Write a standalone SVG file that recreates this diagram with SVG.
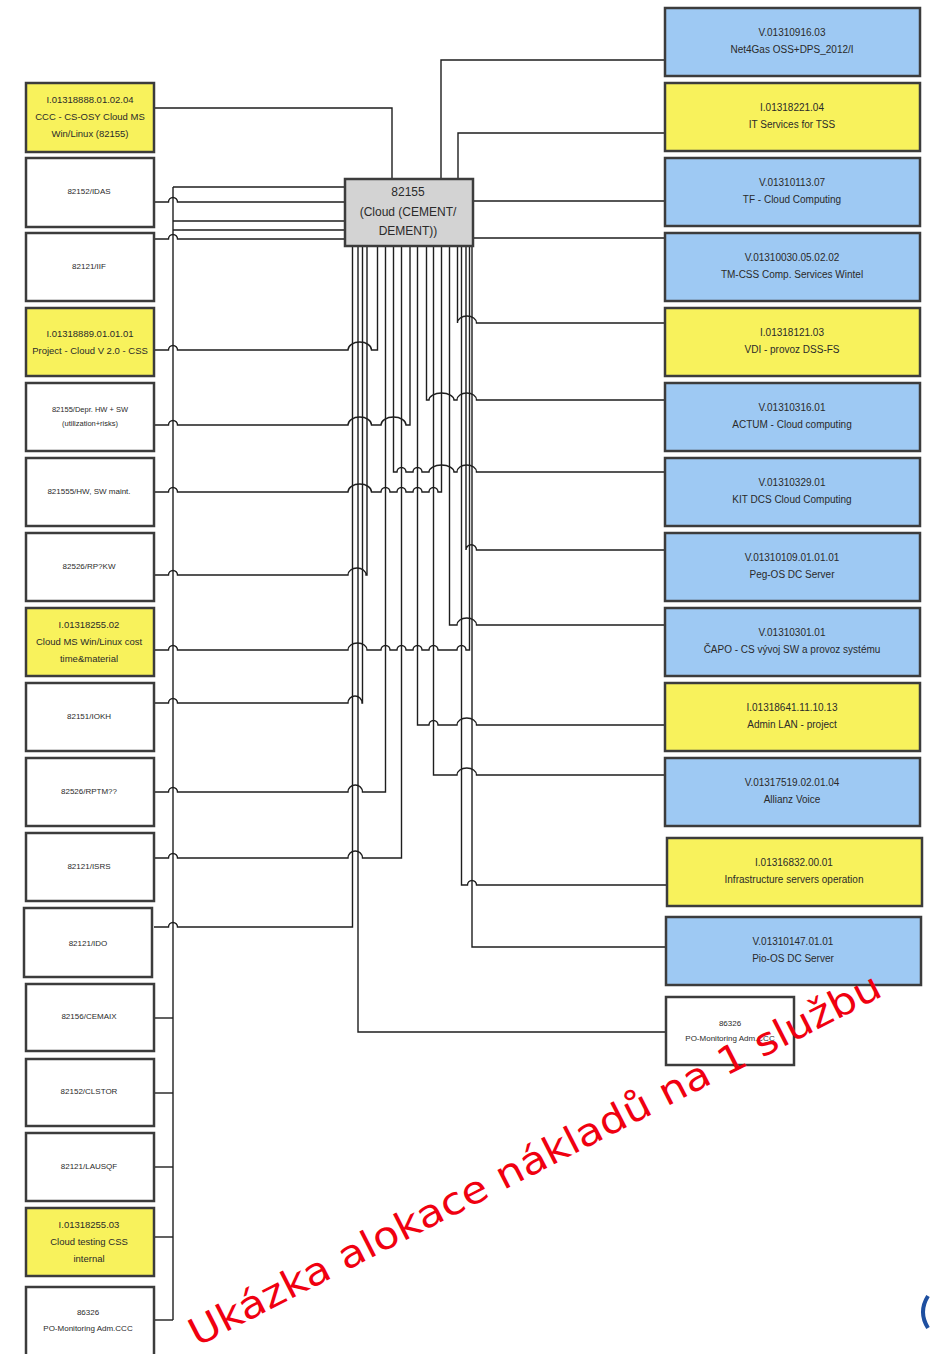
<svg xmlns="http://www.w3.org/2000/svg" width="930" height="1354" viewBox="0 0 930 1354">
<style>
.box{stroke:#3c3c3c;stroke-width:2.5}
.w{fill:#ffffff}
.y{fill:#f8f25c}
.b{fill:#9ec9f3}
.g{fill:#d3d3d3}
text{font-family:"Liberation Sans",Arial,sans-serif;fill:#2a2a2a;text-anchor:middle}
.t10{font-size:10px}
.t9{font-size:9.5px}
.t8{font-size:8px}
.t7{font-size:7.5px}
.t12{font-size:12px}
.c path{fill:none;stroke:#1e1e1e;stroke-width:1.4}
.red{font-family:"DejaVu Sans",Verdana,sans-serif;font-size:38px;fill:#f00010;text-anchor:start}
</style>
<rect width="930" height="1354" fill="#ffffff"/>

<g id="connectors" class="c">
<!-- top -->
<path d="M154,108 H392 V179"/>
<path d="M665,60 H441 V179"/>
<path d="M665,133 H458 V179"/>
<path d="M473,201 H665"/>
<path d="M473,238 H665"/>
<!-- left bus -->
<path d="M173,187 V1320"/>
<path d="M173,187 H345"/>
<path d="M173,221 H345"/>
<path d="M173,230 H345"/>
<path d="M154,202 H168.5 A4.5 4.5 0 0 1 177.5,202 H345"/>
<path d="M154,239 H168.5 A4.5 4.5 0 0 1 177.5,239 H345"/>
<path d="M154,1018 H173"/>
<path d="M154,1093 H173"/>
<path d="M154,1167 H173"/>
<path d="M154,1237 H173"/>
<path d="M154,1320 H173"/>
<!-- left boxes to center -->
<path d="M154,350 H168.5 A4.5 4.5 0 0 1 177.5,350 H348 A11.75 8 0 0 1 371.5,350 H377.5 V246"/>
<path d="M154,425 H168.5 A4.5 4.5 0 0 1 177.5,425 H348 A11.75 8 0 0 1 371.5,425 H381 A12.5 8 0 0 1 406,425 H410 V246"/>
<path d="M154,492 H168.5 A4.5 4.5 0 0 1 177.5,492 H348 A11.75 8 0 0 1 371.5,492 H381 A4.5 4.5 0 0 1 390,492 H397 A4.5 4.5 0 0 1 406,492 H413 A4.5 4.5 0 0 1 422,492 H429 A4.5 4.5 0 0 1 438,492 H441.5 V246"/>
<path d="M154,575 H168.5 A4.5 4.5 0 0 1 177.5,575 H348 A9 7 0 0 1 366,575 H367 V246"/>
<path d="M154,650 H168.5 A4.5 4.5 0 0 1 177.5,650 H348 A9.5 7 0 0 1 367,650 H381 A4.5 4.5 0 0 1 390,650 H397 A4.5 4.5 0 0 1 406,650 H413 A4.5 4.5 0 0 1 422,650 H429 A4.5 4.5 0 0 1 438,650 H457 A4.5 4.5 0 0 1 466,650 H469.5 V246"/>
<path d="M154,703 H168.5 A4.5 4.5 0 0 1 177.5,703 H348 A7 7 0 0 1 362,703 H362.5 V246"/>
<path d="M154,792 H168.5 A4.5 4.5 0 0 1 177.5,792 H348 A7.25 7 0 0 1 362.5,792 H385.5 V246"/>
<path d="M154,858 H168.5 A4.5 4.5 0 0 1 177.5,858 H348 A7.25 7 0 0 1 362.5,858 H401.5 V246"/>
<path d="M154,927 H168.5 A4.5 4.5 0 0 1 177.5,927 H352.5 V246"/>
<!-- center to right boxes -->
<path d="M457.5,246 V323 A9.5 7 0 0 1 476.5,323 H665"/>
<path d="M426.5,246 V400 H429 A12.5 7 0 0 1 454,400 H457 A9.75 7 0 0 1 476.5,400 H665"/>
<path d="M393.5,246 V472 H397 A4.5 4.5 0 0 1 406,472 H413 A4.5 4.5 0 0 1 422,472 H429 A12.5 7 0 0 1 454,472 H457 A9.75 7 0 0 1 476.5,472 H665"/>
<path d="M466,246 V550 A5.25 5.25 0 0 1 476.5,550 H665"/>
<path d="M449.5,246 V625 H457 A9.75 7 0 0 1 476.5,625 H665"/>
<path d="M417.5,246 V725 H429 A4.5 4.5 0 0 1 438,725 H457 A9.75 7 0 0 1 476.5,725 H665"/>
<path d="M433.5,246 V775 H457 A9.75 7 0 0 1 476.5,775 H665"/>
<path d="M461.5,246 V885 H467.5 A4.5 4.5 0 0 1 476.5,885 H667"/>
<path d="M472,246 V947 H666"/>
<path d="M358,246 V1032 H666"/>
</g>

<g id="center">
<rect class="box g" x="345" y="179" width="128" height="67"/>
<text class="t12" x="408" y="196">82155</text>
<text class="t12" x="408" y="216">(Cloud (CEMENT/</text>
<text class="t12" x="408" y="235">DEMENT))</text>
</g>

<g id="L1"><rect class="box y" x="26" y="83" width="128" height="69"/>
<text class="t9" x="90" y="103">I.01318888.01.02.04</text><text class="t9" x="90" y="120">CCC - CS-OSY Cloud MS</text><text class="t9" x="90" y="137">Win/Linux (82155)</text></g>
<g id="L2"><rect class="box w" x="26" y="158" width="128" height="69"/><text class="t8" x="89" y="194">82152/IDAS</text></g>
<g id="L3"><rect class="box w" x="26" y="233" width="128" height="68"/><text class="t8" x="89" y="269">82121/IIF</text></g>
<g id="L4"><rect class="box y" x="26" y="308" width="128" height="68"/>
<text class="t9" x="90" y="337">I.01318889.01.01.01</text><text class="t9" x="90" y="354">Project - Cloud V 2.0 - CSS</text></g>
<g id="L5"><rect class="box w" x="26" y="383" width="128" height="68"/>
<text class="t7" x="90" y="412">82155/Depr. HW + SW</text><text class="t7" x="90" y="426">(utilization+risks)</text></g>
<g id="L6"><rect class="box w" x="26" y="458" width="128" height="68"/><text class="t8" x="89" y="494">821555/HW, SW maint.</text></g>
<g id="L7"><rect class="box w" x="26" y="533" width="128" height="68"/><text class="t8" x="89" y="569">82526/RP?KW</text></g>
<g id="L8"><rect class="box y" x="26" y="608" width="128" height="68"/>
<text class="t9" x="89" y="628">I.01318255.02</text><text class="t9" x="89" y="645">Cloud MS Win/Linux cost</text><text class="t9" x="89" y="662">time&amp;material</text></g>
<g id="L9"><rect class="box w" x="26" y="683" width="128" height="68"/><text class="t8" x="89" y="719">82151/IOKH</text></g>
<g id="L10"><rect class="box w" x="26" y="758" width="128" height="68"/><text class="t8" x="89" y="794">82526/RPTM??</text></g>
<g id="L11"><rect class="box w" x="26" y="833" width="128" height="68"/><text class="t8" x="89" y="869">82121/ISRS</text></g>
<g id="L12"><rect class="box w" x="24" y="908" width="128" height="69"/><text class="t8" x="88" y="946">82121/IDO</text></g>
<g id="L13"><rect class="box w" x="26" y="984" width="128" height="67"/><text class="t8" x="89" y="1019">82156/CEMAIX</text></g>
<g id="L14"><rect class="box w" x="26" y="1059" width="128" height="67"/><text class="t8" x="89" y="1094">82152/CLSTOR</text></g>
<g id="L15"><rect class="box w" x="26" y="1133" width="128" height="68"/><text class="t8" x="89" y="1169">82121/LAUSQF</text></g>
<g id="L16"><rect class="box y" x="26" y="1208" width="128" height="68"/>
<text class="t9" x="89" y="1228">I.01318255.03</text><text class="t9" x="89" y="1245">Cloud testing CSS</text><text class="t9" x="89" y="1262">internal</text></g>
<g id="L17"><rect class="box w" x="26" y="1287" width="128" height="70"/>
<text class="t8" x="88" y="1315">86326</text><text class="t8" x="88" y="1331">PO-Monitoring Adm.CCC</text></g>

<g id="R1"><rect class="box b" x="665" y="8" width="255" height="68"/>
<text class="t10" x="792" y="36">V.01310916.03</text><text class="t10" x="792" y="53">Net4Gas OSS+DPS_2012/I</text></g>
<g id="R2"><rect class="box y" x="665" y="83" width="255" height="68"/>
<text class="t10" x="792" y="111">I.01318221.04</text><text class="t10" x="792" y="128">IT Services for TSS</text></g>
<g id="R3"><rect class="box b" x="665" y="158" width="255" height="68"/>
<text class="t10" x="792" y="186">V.01310113.07</text><text class="t10" x="792" y="203">TF - Cloud Computing</text></g>
<g id="R4"><rect class="box b" x="665" y="233" width="255" height="68"/>
<text class="t10" x="792" y="261">V.01310030.05.02.02</text><text class="t10" x="792" y="278">TM-CSS Comp. Services Wintel</text></g>
<g id="R5"><rect class="box y" x="665" y="308" width="255" height="68"/>
<text class="t10" x="792" y="336">I.01318121.03</text><text class="t10" x="792" y="353">VDI - provoz DSS-FS</text></g>
<g id="R6"><rect class="box b" x="665" y="383" width="255" height="68"/>
<text class="t10" x="792" y="411">V.01310316.01</text><text class="t10" x="792" y="428">ACTUM - Cloud computing</text></g>
<g id="R7"><rect class="box b" x="665" y="458" width="255" height="68"/>
<text class="t10" x="792" y="486">V.01310329.01</text><text class="t10" x="792" y="503">KIT DCS Cloud Computing</text></g>
<g id="R8"><rect class="box b" x="665" y="533" width="255" height="68"/>
<text class="t10" x="792" y="561">V.01310109.01.01.01</text><text class="t10" x="792" y="578">Peg-OS DC Server</text></g>
<g id="R9"><rect class="box b" x="665" y="608" width="255" height="68"/>
<text class="t10" x="792" y="636">V.01310301.01</text><text class="t10" x="792" y="653">ČAPO - CS vývoj SW a provoz systému</text></g>
<g id="R10"><rect class="box y" x="665" y="683" width="255" height="68"/>
<text class="t10" x="792" y="711">I.01318641.11.10.13</text><text class="t10" x="792" y="728">Admin LAN - project</text></g>
<g id="R11"><rect class="box b" x="665" y="758" width="255" height="68"/>
<text class="t10" x="792" y="786">V.01317519.02.01.04</text><text class="t10" x="792" y="803">Allianz Voice</text></g>
<g id="R12"><rect class="box y" x="667" y="838" width="255" height="68"/>
<text class="t10" x="794" y="866">I.01316832.00.01</text><text class="t10" x="794" y="883">Infrastructure servers operation</text></g>
<g id="R13"><rect class="box b" x="666" y="917" width="255" height="68"/>
<text class="t10" x="793" y="945">V.01310147.01.01</text><text class="t10" x="793" y="962">Pio-OS DC Server</text></g>
<g id="R14"><rect class="box w" x="666" y="997" width="128" height="68"/>
<text class="t8" x="730" y="1026">86326</text><text class="t8" x="730" y="1041">PO-Monitoring Adm.CCC</text></g>

<text class="red" x="197" y="1347" transform="rotate(-27.1 197 1347)" textLength="772" lengthAdjust="spacingAndGlyphs">Ukázka alokace nákladů na 1 službu</text>
<path d="M928,1296 Q918,1312 928,1328" fill="none" stroke="#1e4fa0" stroke-width="4"/>
</svg>
